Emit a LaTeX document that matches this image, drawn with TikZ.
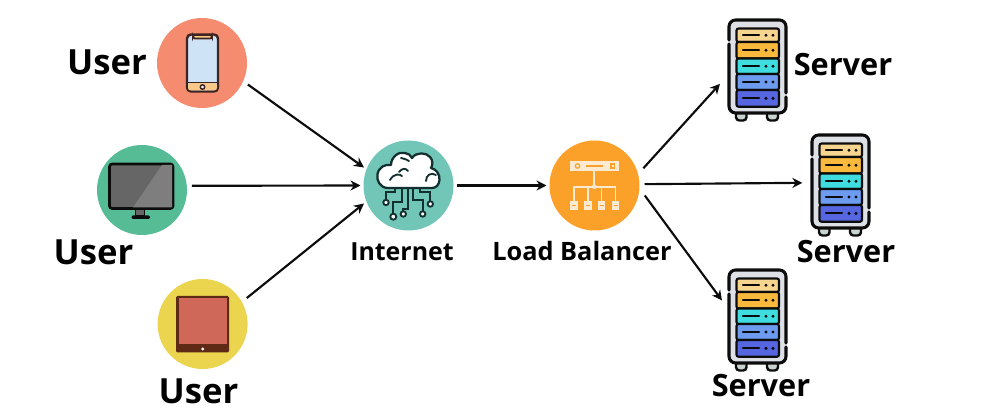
\documentclass[tikz,border=0pt]{standalone}
\usepackage{fontspec}
\setmainfont{Open Sans}
\usetikzlibrary{arrows.meta}
\definecolor{ink}{HTML}{0C0C0C}
\definecolor{brownline}{HTML}{3E2420}
\definecolor{traceink}{HTML}{12302F}
\definecolor{cream}{HTML}{FCEBD2}
\definecolor{hubcoral}{HTML}{F58B6F}
\definecolor{hubgreen}{HTML}{55BC96}
\definecolor{hubyellow}{HTML}{EBD44E}
\definecolor{hubteal}{HTML}{72C6B8}
\definecolor{huborange}{HTML}{FBA028}
\definecolor{slota}{HTML}{F6D68F}
\definecolor{slotb}{HTML}{F8B93C}
\definecolor{slotc}{HTML}{3FDDE0}
\definecolor{slotd}{HTML}{6C9BF0}
\definecolor{slote}{HTML}{5666E0}
\definecolor{rackgray}{HTML}{DDE1E6}
\definecolor{wheelgray}{HTML}{C9D3CF}
\definecolor{screenblue}{HTML}{CFE3F7}
\definecolor{bandorange}{HTML}{F8C98A}
\definecolor{tabletred}{HTML}{D0685A}
\definecolor{tabletbrown}{HTML}{5E2A16}
\definecolor{monitordark}{HTML}{666666}
\definecolor{monitorlight}{HTML}{7E7E7E}
\tikzset{
  x=0.75pt,y=-0.75pt,
  hub/.style={circle,minimum size=67.5pt,inner sep=0pt,outer sep=2.25pt,fill=#1},
  rackbox/.style={rectangle,minimum width=44.25pt,minimum height=77.25pt,inner sep=0pt,outer sep=0pt},
  link/.style={draw=ink,line width=1.6pt,-{Stealth[length=7.5pt,width=7.5pt]}},
  biglabel/.style={font=\bfseries\fontsize{26}{30}\selectfont,text=black,inner sep=0pt},
  midlabelA/.style={font=\bfseries\fontsize{18.7}{22}\selectfont,text=black,inner sep=0pt},
  midlabelB/.style={font=\bfseries\fontsize{19}{22}\selectfont,text=black,inner sep=0pt},
  srvlabel/.style={font=\bfseries\fontsize{23}{26}\selectfont,text=black,inner sep=0pt},
  slot/.style={draw=ink,line width=1.6pt,rounded corners=1.5pt,fill=#1},
  trace/.style={draw=traceink,line width=1.4pt},
  tracedot/.style={draw=traceink,line width=1.4pt,fill=white},
  lbline/.style={draw=cream,line width=1.3pt},
  pics/serverrack/.style={code={
    \draw[ink,line width=1.8pt,rounded corners=2.5pt,fill=wheelgray] (8,90) rectangle (18.5,101.5);
    \draw[ink,line width=1.8pt,rounded corners=2.5pt,fill=wheelgray] (39,90) rectangle (50,101.5);
    \fill[rounded corners=5pt,fill=rackgray] (1,1) rectangle (58,94);
    \draw[ink,line width=2.3pt,line cap=round,rounded corners=5pt] (1,21) -- (1,1) -- (58,1) -- (58,74);
    \draw[ink,line width=2.3pt,line cap=round,rounded corners=5pt] (1,25) -- (1,94) -- (58,94) -- (58,78);
    \foreach \ya/\yb/\col in {9.5/23/slota,23/39.5/slotb,39.5/55/slotc,55/71/slotd,71/87.7/slote}{
      \draw[slot=\col] (8.5,\ya) rectangle (51,\yb);
      \draw[ink,line width=1.7pt,line cap=round] (15,{(\ya+\yb)/2}) -- (31,{(\ya+\yb)/2});
      \fill[ink] (38,{(\ya+\yb)/2}) circle[radius=1.7];
      \fill[ink] (45,{(\ya+\yb)/2}) circle[radius=1.7];
    }
  }},
}
\begin{document}
\begin{tikzpicture}
\useasboundingbox (0,0) rectangle (1000,420);
% hubs
\node[hub=hubcoral] (phone) at (202,63) {};
\node[hub=hubgreen] (monitor) at (142,190) {};
\node[hub=hubyellow] (tablet) at (202.6,324) {};
\node[hub=hubteal] (cloud) at (408.5,185.5) {};
\node[hub=huborange] (balancer) at (594.5,185.5) {};
% server racks
\node[rackbox] (srvA) at (757.5,70.5) {};
\node[rackbox] (srvB) at (840.5,185.5) {};
\node[rackbox] (srvC) at (757.5,320.5) {};
\pic at (srvA.north west) {serverrack};
\pic at (srvB.north west) {serverrack};
\pic at (srvC.north west) {serverrack};
% phone icon
\draw[brownline,line width=1.8pt,rounded corners=3pt,fill=screenblue] (187,34.5) rectangle (218,91.5);
\fill[bandorange,rounded corners=2pt] (188,83) rectangle (217,90.5);
\draw[brownline,line width=1.3pt] (187,82.5) -- (218,82.5);
\draw[brownline,line width=1.3pt,fill=bandorange,rounded corners=1.5pt] (193,35) -- (193,38.5) -- (212,38.5) -- (212,35) -- cycle;
\draw[brownline,line width=1.1pt,fill=white] (202.5,87) circle[radius=2.2];
% monitor icon
\fill[ink] (135,208) rectangle (145,216);
\fill[monitordark] (136,209) rectangle (144,215);
\fill[ink,rounded corners=1pt] (131.5,215.5) rectangle (150,219);
\draw[ink,line width=2pt,rounded corners=2pt,fill=monitordark] (109.5,164) rectangle (173,208.5);
\fill[monitorlight] (133,207.5) -- (172,207.5) -- (172,165) -- (162,165) -- cycle;
% tablet icon
\fill[tabletbrown,rounded corners=1pt] (176,296) rectangle (229,352.5);
\fill[tabletred] (179,298.5) rectangle (226.5,344.5);
\fill[white] (202.7,349) circle[radius=1.7];
% cloud icon
\draw[trace] (395,186) -- (395,192) -- (386,192) -- (386,200);
\draw[trace] (401.7,186) -- (401.7,202) -- (393.3,202) -- (393.3,213);
\draw[trace] (408.3,186) -- (408.3,209) -- (403.3,209) -- (403.3,211);
\draw[trace] (413.3,186) -- (413.3,200) -- (422.7,200) -- (422.7,211);
\draw[trace] (420,186) -- (420,192) -- (430.3,192) -- (430.3,201);
\foreach \cx/\cy/\cr in {386/202.5/2.7,393.3/216.7/3,403.3/214/2.7,422.7/214/2.7,430.3/204/2.7}{
  \draw[tracedot] (\cx,\cy) circle[radius=\cr];
}
\draw[traceink,line width=1.7pt,fill=white,line join=round]
  (388,188) .. controls (380,188) and (376,180) .. (377.5,174)
  .. controls (379,167) and (385,164) .. (391,165)
  .. controls (391,157) and (399,151) .. (405,153)
  .. controls (408,153.5) and (411,155) .. (412,158)
  .. controls (416,152) and (426,152) .. (430,157)
  .. controls (433,160) and (433,165) .. (431,168)
  .. controls (436,169) and (440,174) .. (439.5,180)
  .. controls (439,185) and (436,188) .. (432,188) -- cycle;
\draw[traceink,line width=1.4pt,line cap=round] (390,180) .. controls (394,173) and (400,174) .. (402,176);
\draw[traceink,line width=1.4pt,line cap=round] (399,172) .. controls (402,168) and (406,168) .. (408,171);
\draw[traceink,line width=1.4pt,line cap=round] (401,158) .. controls (405,159) and (408,160) .. (409,161);
\draw[traceink,line width=1.4pt,line cap=round] (426,181) .. controls (426,175) and (431,172) .. (436,175);
% balancer icon
\fill[cream] (570,161) rectangle (619,171);
\draw[huborange,line width=0.9pt] (577.5,166) circle[radius=2.2];
\draw[huborange,line width=1.1pt] (586,166) -- (603,166);
\draw[huborange,line width=0.9pt] (611,164) rectangle (614.5,168);
\draw[lbline] (594.3,171) -- (594.3,186.7);
\draw[lbline] (573.8,201) -- (573.8,186.7) -- (615.5,186.7) -- (615.5,201);
\draw[lbline] (587.8,201) -- (587.8,186.7);
\draw[lbline] (601.5,201) -- (601.5,186.7);
\fill[cream] (594.3,186.7) circle[radius=2.4];
\foreach \bx in {573.8,587.8,601.5,615.5}{
  \fill[cream] (\bx-3.8,201.5) rectangle (\bx+3.8,210);
  \draw[huborange,line width=0.6pt] (\bx-2,205.7) -- (\bx+2,205.7);
}
% connectors
\draw[link] ([shift={(1.5pt,-1.5pt)}]phone.-24) -- (cloud.158);
\draw[link] ([xshift=1.5pt]monitor.5) -- (cloud.180);
\draw[link] ([shift={(2pt,1.5pt)}]tablet.30) -- (cloud.202);
\draw[link] (cloud.0) -- (balancer.180);
\draw[link] ([xshift=3pt]balancer.21) -- ([xshift=-6pt,yshift=-10pt]srvA.west);
\draw[link] ([xshift=1.5pt,yshift=1pt]balancer.0) -- ([xshift=-6.5pt,yshift=2pt]srvB.west);
\draw[link] ([xshift=2.5pt]balancer.-12) -- ([xshift=-4.5pt,yshift=15pt]srvC.west);
% labels
\node[biglabel] (userA) at (107,62) {User};
\node[biglabel] (userB) at (93.5,252) {User};
\node[biglabel] (userC) at (198.5,391) {User};
\node[midlabelA] (lblnet) at (402,252) {Internet};
\node[midlabelB] (lbllb) at (582,251) {Load Balancer};
\node[srvlabel] (lblA) at (843,65) {Server};
\node[srvlabel] (lblB) at (846,252) {Server};
\node[srvlabel] (lblC) at (761,386) {Server};
\end{tikzpicture}
\end{document}
